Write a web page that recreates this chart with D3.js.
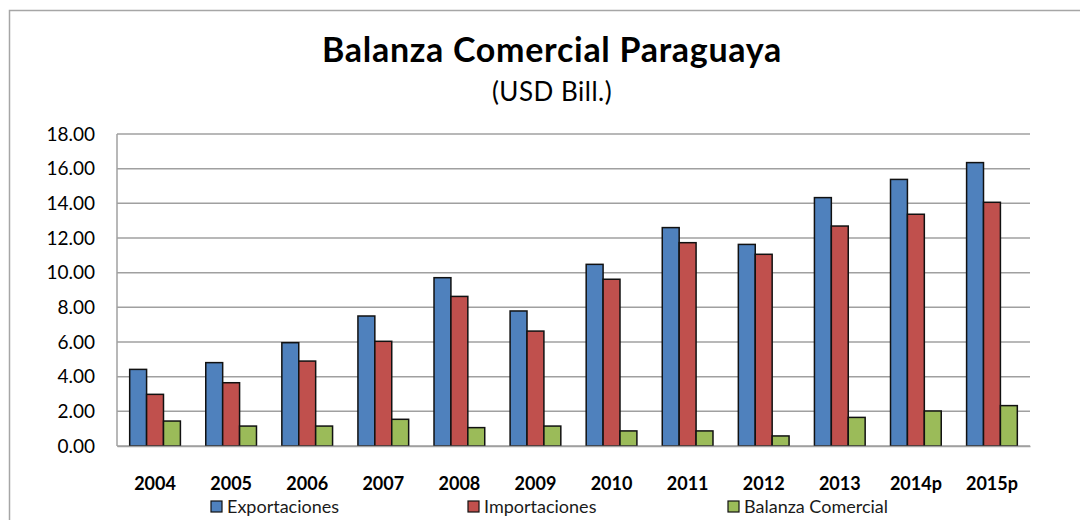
<!DOCTYPE html>
<html>
<head>
<meta charset="utf-8">
<script src="https://cdn.jsdelivr.net/npm/d3@7"></script>
<style>
  body { margin: 0; background: #fff; }
  text { font-family: Lato, "Open Sans", sans-serif; }
</style>
</head>
<body>
<script>
// chart data
var years = ["2004", "2005", "2006", "2007", "2008", "2009", "2010", "2011", "2012", "2013", "2014p", "2015p"];
var exportaciones = [4.42, 4.81, 5.96, 7.50, 9.71, 7.79, 10.48, 12.60, 11.63, 14.33, 15.38, 16.35];
var importaciones = [2.98, 3.65, 4.90, 6.04, 8.63, 6.63, 9.62, 11.73, 11.06, 12.69, 13.37, 14.06];
var balanza = [1.44, 1.15, 1.15, 1.54, 1.06, 1.15, 0.87, 0.87, 0.58, 1.65, 2.02, 2.33];
var seriesNames = ["Exportaciones", "Importaciones", "Balanza Comercial"];
var seriesColors = ["#4F81BD", "#C0504D", "#9BBB59"];
var yTicks = [0, 2, 4, 6, 8, 10, 12, 14, 16, 18];

var W = 1080, H = 520;
var plot = {left: 117, right: 1030, top: 134, bottom: 446};

var svg = d3.select("body").append("svg")
    .attr("width", W)
    .attr("height", H);

// outer chart frame (runs off the right/bottom edge)
svg.append("rect")
    .attr("x", 9.5).attr("y", 10.5)
    .attr("width", 1200).attr("height", 600)
    .attr("fill", "none")
    .attr("stroke", "#a6a6a6")
    .attr("stroke-width", 1.5);

// title
svg.append("text")
    .attr("x", 552).attr("y", 62)
    .attr("text-anchor", "middle")
    .attr("font-size", 34)
    .attr("letter-spacing", 0.7)
    .attr("font-weight", "bold")
    .attr("fill", "#000")
    .text("Balanza Comercial Paraguaya");

svg.append("text")
    .attr("x", 552).attr("y", 101)
    .attr("text-anchor", "middle")
    .attr("font-size", 26)
    .attr("letter-spacing", 0.5)
    .attr("fill", "#000")
    .text("(USD Bill.)");

// scales
var x0 = d3.scaleBand().domain(years).range([plot.left, plot.right]).padding(0);
var bw = x0.bandwidth();
var x1 = d3.scaleBand().domain(seriesNames).range([bw / 6, bw * 5 / 6]).padding(0);
var y = d3.scaleLinear().domain([0, 18]).range([plot.bottom, plot.top]);

// gridlines
svg.append("g")
    .selectAll("line")
    .data(yTicks)
  .enter().append("line")
    .attr("x1", plot.left).attr("x2", plot.right)
    .attr("y1", function(d) { return y(d); })
    .attr("y2", function(d) { return y(d); })
    .attr("stroke", "#a0a0a0")
    .attr("stroke-width", 1.5);

// left plot border
svg.append("line")
    .attr("x1", plot.left).attr("x2", plot.left)
    .attr("y1", plot.top).attr("y2", plot.bottom)
    .attr("stroke", "#a0a0a0")
    .attr("stroke-width", 1.5);

// y axis labels
var yAxis = d3.axisLeft(y)
    .tickValues(yTicks)
    .tickFormat(d3.format(".2f"))
    .tickSize(0)
    .tickPadding(22);

var gy = svg.append("g")
    .attr("transform", "translate(" + plot.left + ",0)")
    .call(yAxis);
gy.select(".domain").remove();
gy.selectAll("text")
    .attr("font-family", "Lato, sans-serif")
    .attr("font-size", 19)
    .attr("fill", "#000");

// bars
var rows = years.map(function(yr, i) {
  return {year: yr, values: [exportaciones[i], importaciones[i], balanza[i]]};
});

var groups = svg.append("g")
    .selectAll("g")
    .data(rows)
  .enter().append("g")
    .attr("transform", function(d) { return "translate(" + x0(d.year) + ",0)"; });

groups.selectAll("rect")
    .data(function(d) {
      return d.values.map(function(v, k) { return {name: seriesNames[k], value: v, color: seriesColors[k]}; });
    })
  .enter().append("rect")
    .attr("x", function(d) { return x1(d.name); })
    .attr("width", x1.bandwidth())
    .attr("y", function(d) { return y(d.value); })
    .attr("height", function(d) { return y(0) - y(d.value); })
    .attr("fill", function(d) { return d.color; })
    .attr("stroke", "#111")
    .attr("stroke-width", 1.5);

// x axis
var xAxis = d3.axisBottom(x0).tickSize(0).tickPadding(31);
var gx = svg.append("g")
    .attr("transform", "translate(0," + plot.bottom + ")")
    .call(xAxis);
gx.select(".domain")
    .attr("stroke", "#a0a0a0")
    .attr("stroke-width", 1.5);
gx.selectAll("text")
    .attr("font-family", "Lato, sans-serif")
    .attr("font-size", 18)
    .attr("font-weight", "bold")
    .attr("fill", "#000");

// legend
var legendX = [211, 468, 728];
var legend = svg.append("g")
    .selectAll("g")
    .data(seriesNames)
  .enter().append("g")
    .attr("transform", function(d, i) { return "translate(" + legendX[i] + ",501)"; });

legend.append("rect")
    .attr("width", 11).attr("height", 11)
    .attr("fill", function(d, i) { return seriesColors[i]; })
    .attr("stroke", "#111")
    .attr("stroke-width", 1.2);

legend.append("text")
    .attr("x", 16).attr("y", 11.5)
    .attr("font-size", 18)
    .attr("fill", "#1a1a1a")
    .text(function(d) { return d; });
</script>
</body>
</html>
